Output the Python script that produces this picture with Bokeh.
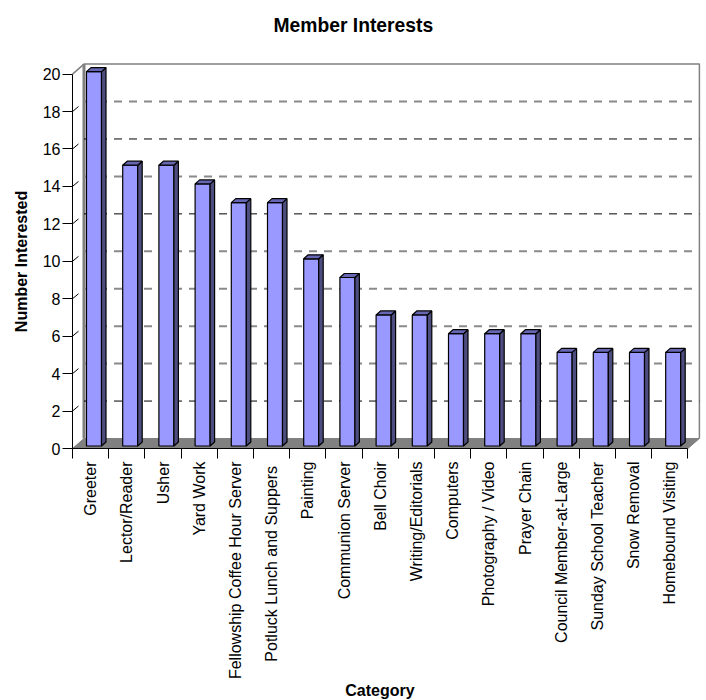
from bokeh.plotting import figure
from bokeh.models import Range1d, LinearAxis, FixedTicker, Label
from bokeh.embed import file_html
from bokeh.resources import INLINE
from math import pi

title_text = "Member Interests"
categories = ["Greeter", "Lector/Reader", "Usher", "Yard Work", "Fellowship Coffee Hour Server",
              "Potluck Lunch and  Suppers", "Painting", "Communion Server", "Bell Choir",
              "Writing/Editorials", "Computers", "Photography / Video", "Prayer Chain",
              "Council Member-at-Large", "Sunday School Teacher", "Snow Removal", "Homebound Visiting"]
values = [20, 15, 15, 14, 13, 13, 10, 9, 7, 7, 6, 6, 6, 5, 5, 5, 5]
y_ticks = list(range(0, 21, 2))

# scale: pixels per data unit; the frame fills the canvas and the axes sit at data 0
PX_X = 36.2
PX_Y = 18.72
W, H = 702, 700
ORIGIN_X, ORIGIN_Y = 72, 448
dx = lambda px: px / PX_X
dy = lambda px: px / PX_Y

n = len(categories)
p = figure(width=W, height=H, output_backend="svg", toolbar_location=None,
           x_range=Range1d(dx(-ORIGIN_X), dx(W - ORIGIN_X)),
           y_range=Range1d(dy(ORIGIN_Y - H), dy(ORIGIN_Y)),
           x_axis_location=None, y_axis_location=None,
           min_border=0, outline_line_color=None,
           background_fill_color="white", border_fill_color="white")
p.grid.visible = False

# title
p.add_layout(Label(x=dx(201), y=dy(423), text=title_text, text_font="Liberation Sans",
                   text_font_size="19.3px", text_font_style="bold", text_color="black",
                   text_baseline="alphabetic", text_align="left"))

# depth of the 3D box
WALL_X, WALL_Y = dx(11.5), dy(10)
right = n
# floor
p.patch([0, WALL_X, right + WALL_X, right], [0, WALL_Y, WALL_Y, 0], fill_color="#808080", line_color="#808080", line_width=1)
# walls
p.line([WALL_X, WALL_X], [WALL_Y, 20 + WALL_Y], line_color="#808080", line_width=3)
p.line([0, WALL_X, right + WALL_X, right + WALL_X], [20, 20 + WALL_Y, 20 + WALL_Y, WALL_Y], line_color="#808080", line_width=1.5)

# dashed gridlines on the back wall (some render soft grey, some crisp black)
grid_vals = y_ticks[1:-1]
crisp = {2, 12, 16}
p.segment(x0=[WALL_X] * len(grid_vals), x1=[right + WALL_X] * len(grid_vals),
          y0=[v + WALL_Y for v in grid_vals], y1=[v + WALL_Y for v in grid_vals],
          line_color=["black" if v in crisp else "#8a8a8a" for v in grid_vals],
          line_width=[1 if v in crisp else 2 for v in grid_vals], line_dash="8 7")

# slanted inner ticks
slant = y_ticks[1:-1]
p.segment(x0=[0] * len(slant), x1=[dx(6)] * len(slant), y0=slant, y1=[v + dy(5) for v in slant],
          line_color="black", line_width=1)

# bars
BAR_L, BAR_W = dx(14), dx(15)
BASE = dy(2.5)
DX, DY = dx(4.5), dy(4)
lefts = [i + BAR_L for i in range(n)]
rights = [l + BAR_W for l in lefts]
tops = [v + BASE for v in values]
p.quad(left=lefts, right=rights, bottom=[BASE] * n, top=tops, fill_color="#9999FF", line_color="black", line_width=1.2)
p.patches(xs=[[r, r + DX, r + DX, r] for r in rights],
          ys=[[BASE, BASE + DY, t + DY, t] for t in tops],
          fill_color="#4D4D80", line_color="black", line_width=1.2)
p.patches(xs=[[l, l + DX, r + DX, r] for l, r in zip(lefts, rights)],
          ys=[[t, t + DY, t + DY, t] for t in tops],
          fill_color="#6666B3", line_color="black", line_width=1.2)

# y axis
ya = LinearAxis(ticker=FixedTicker(ticks=y_ticks), bounds=(0, 20), axis_label="Number Interested", fixed_location=0)
ya.axis_line_color = "black"
ya.major_tick_line_color = "black"
ya.major_tick_out = 10
ya.major_tick_in = 0
ya.minor_tick_line_color = None
ya.major_label_text_font = "Liberation Sans"
ya.major_label_text_font_size = "16px"
ya.major_label_text_color = "black"
ya.major_label_standoff = 2
ya.axis_label_text_font = "Liberation Sans"
ya.axis_label_text_font_size = "16px"
ya.axis_label_text_font_style = "bold"
ya.axis_label_text_color = "black"
ya.axis_label_standoff = 10
p.add_layout(ya, "left")

# x axis: tick marks at the category borders
xa = LinearAxis(ticker=FixedTicker(ticks=list(range(n + 1))), bounds=(0, n), fixed_location=0)
xa.axis_line_color = "black"
xa.major_tick_line_color = "black"
xa.major_tick_out = 10
xa.major_tick_in = 0
xa.minor_tick_line_color = None
xa.major_label_text_font_size = "0px"
xa.major_label_text_color = None
xa.major_label_standoff = 0
p.add_layout(xa, "below")

# x axis: category names at the centres
xl = LinearAxis(ticker=FixedTicker(ticks=[i + 0.5 for i in range(n)]), axis_label="Category", bounds=(0, n), fixed_location=0)
xl.major_label_overrides = {i + 0.5: c for i, c in enumerate(categories)}
xl.major_label_orientation = pi / 2
xl.axis_line_color = None
xl.major_tick_line_color = None
xl.minor_tick_line_color = None
xl.major_tick_out = 0
xl.major_tick_in = 0
xl.major_label_standoff = 13
xl.major_label_text_font = "Liberation Sans"
xl.major_label_text_font_size = "16px"
xl.major_label_text_color = "black"
xl.axis_label_text_font = "Liberation Sans"
xl.axis_label_text_font_size = "16px"
xl.axis_label_text_font_style = "bold"
xl.axis_label_text_color = "black"
xl.axis_label_standoff = 0
p.add_layout(xl, "below")

open("out.html", "w").write(file_html(p, INLINE))
